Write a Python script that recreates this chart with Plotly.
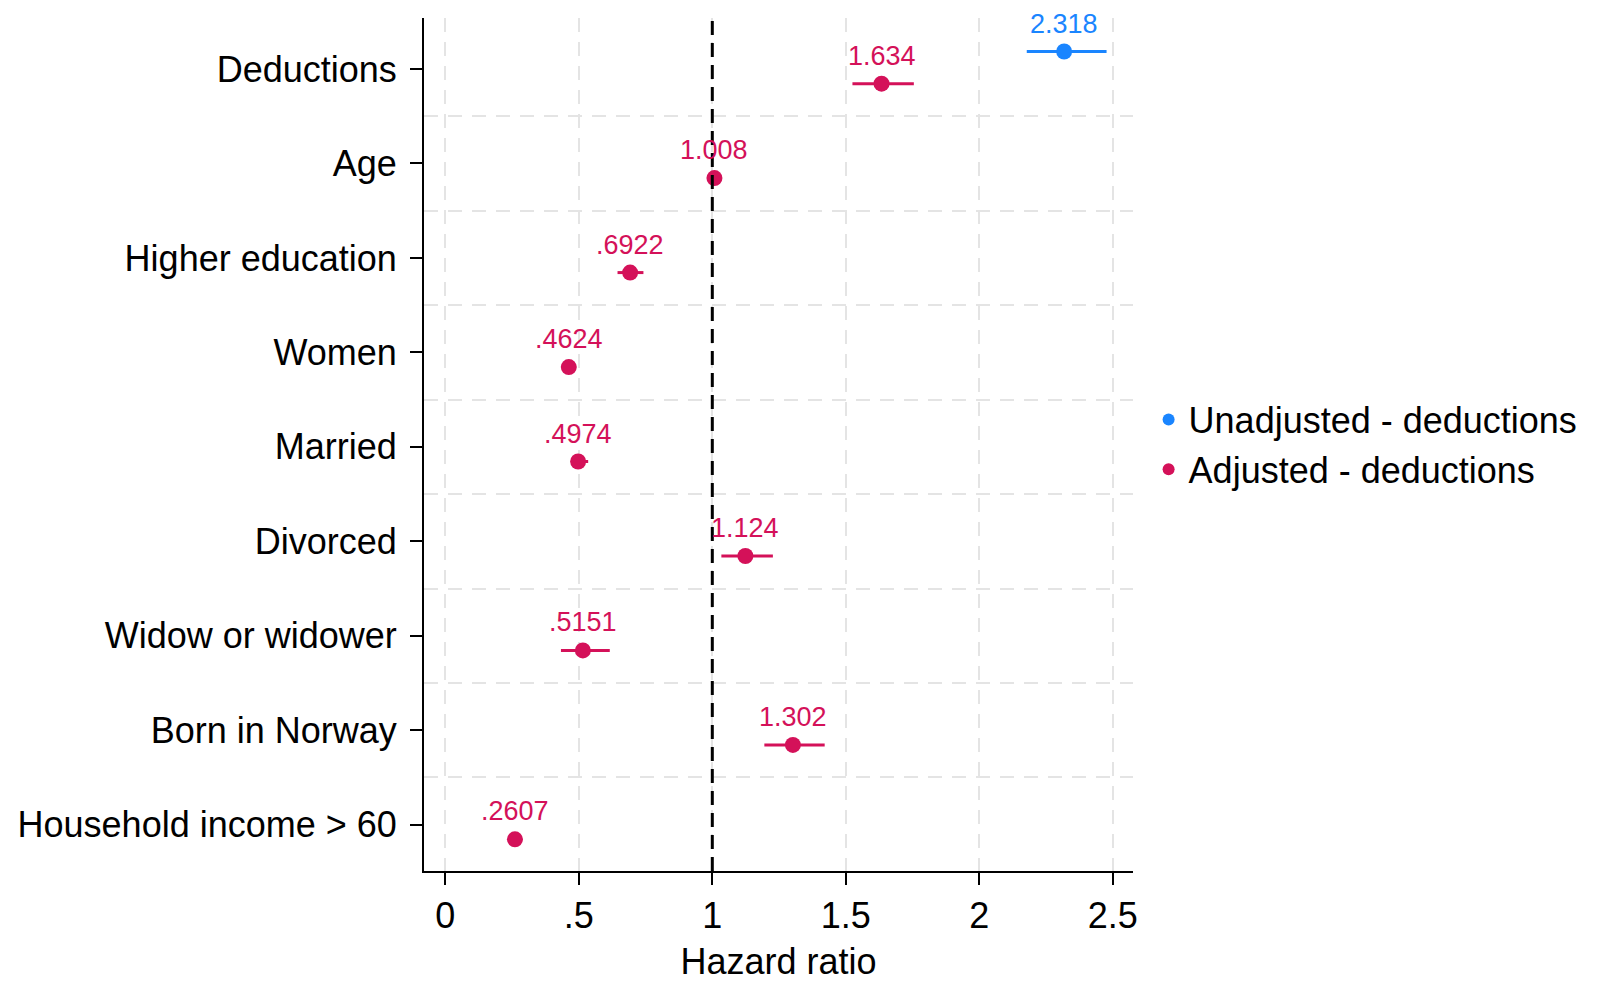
import plotly.graph_objects as go

categories = ["Deductions", "Age", "Higher education", "Women", "Married",
              "Divorced", "Widow or widower", "Born in Norway", "Household income > 60"]
adj_hr = [1.634, 1.008, 0.6922, 0.4624, 0.4974, 1.124, 0.5151, 1.302, 0.2607]
adj_lo = [1.525, 1.002, 0.645, 0.440, 0.470, 1.034, 0.433, 1.195, 0.235]
adj_hi = [1.755, 1.014, 0.742, 0.486, 0.535, 1.227, 0.616, 1.421, 0.288]
adj_labels = ["1.634", "1.008", ".6922", ".4624", ".4974", "1.124", ".5151", "1.302", ".2607"]

unadj_cats = ["Deductions"]
unadj_hr = [2.318]
unadj_lo = [2.178]
unadj_hi = [2.477]
unadj_labels = ["2.318"]

x_ticks = [0, 0.5, 1, 1.5, 2, 2.5]
x_ticklabels = ["0", ".5", "1", "1.5", "2", "2.5"]

BLUE = "#1A85FF"
RED = "#D41159"
FONT = "Liberation Sans, Arial, sans-serif"
ADJ_OFF = 0.155
UNADJ_OFF = -0.185
GRID = "#e4e4e4"

idx = {c: i for i, c in enumerate(categories)}
y_adj = [idx[c] + ADJ_OFF for c in categories]
y_unadj = [idx[c] + UNADJ_OFF for c in unadj_cats]

fig = go.Figure()
fig.add_trace(go.Scatter(
    x=unadj_hr, y=y_unadj, mode="markers", name="Unadjusted - deductions",
    marker=dict(color=BLUE, size=16),
    error_x=dict(type="data", symmetric=False,
                 array=[h - v for h, v in zip(unadj_hi, unadj_hr)],
                 arrayminus=[v - l for v, l in zip(unadj_hr, unadj_lo)],
                 color=BLUE, thickness=3, width=0),
))
fig.add_trace(go.Scatter(
    x=adj_hr, y=y_adj, mode="markers", name="Adjusted - deductions",
    marker=dict(color=RED, size=16),
    error_x=dict(type="data", symmetric=False,
                 array=[h - v for h, v in zip(adj_hi, adj_hr)],
                 arrayminus=[v - l for v, l in zip(adj_hr, adj_lo)],
                 color=RED, thickness=3, width=0),
))

for xv, yv, t in zip(unadj_hr, y_unadj, unadj_labels):
    fig.add_annotation(x=xv, y=yv, text=t, showarrow=False, yshift=28,
                       font=dict(family=FONT, size=27, color=BLUE))
for xv, yv, t in zip(adj_hr, y_adj, adj_labels):
    fig.add_annotation(x=xv, y=yv, text=t, showarrow=False, yshift=28,
                       font=dict(family=FONT, size=27, color=RED))

fig.add_shape(type="line", x0=1, x1=1, y0=0, y1=1, xref="x", yref="paper",
              line=dict(color="black", width=3, dash="14px,8px"), layer="above")

fig.update_layout(
    width=1600, height=983,
    margin=dict(l=407, r=475, t=10, b=120),
    plot_bgcolor="white", paper_bgcolor="white",
    font=dict(family=FONT, color="black", size=36),
    showlegend=True,
    legend=dict(x=1.022, xanchor="left", y=0.5, yanchor="middle",
                font=dict(family=FONT, size=36, color="black"),
                bgcolor="rgba(0,0,0,0)", itemsizing="constant"),
)
fig.update_xaxes(
    range=[-0.08, 2.576], tickvals=x_ticks, ticktext=x_ticklabels,
    showgrid=True, gridcolor=GRID, gridwidth=2, griddash="14px,10px",
    showline=True, linecolor="black", linewidth=2,
    ticks="outside", ticklen=12, tickwidth=2, tickcolor="black",
    tickfont=dict(family=FONT, size=36, color="black"),
    title=dict(text="Hazard ratio", font=dict(family=FONT, size=36, color="black"), standoff=14),
    zeroline=False,
)
fig.update_yaxes(
    range=[8.49, -0.54], tickvals=list(range(len(categories))), ticktext=categories,
    showgrid=False,
    minor=dict(tickvals=[i + 0.5 for i in range(len(categories) - 1)],
               showgrid=True, gridcolor=GRID, gridwidth=2, griddash="14px,10px", ticklen=0),
    showline=True, linecolor="black", linewidth=2,
    ticks="outside", ticklen=12, tickwidth=2, tickcolor="black",
    ticklabelstandoff=6,
    tickfont=dict(family=FONT, size=36, color="black"),
    zeroline=False,
)

fig.write_html("out.html")
